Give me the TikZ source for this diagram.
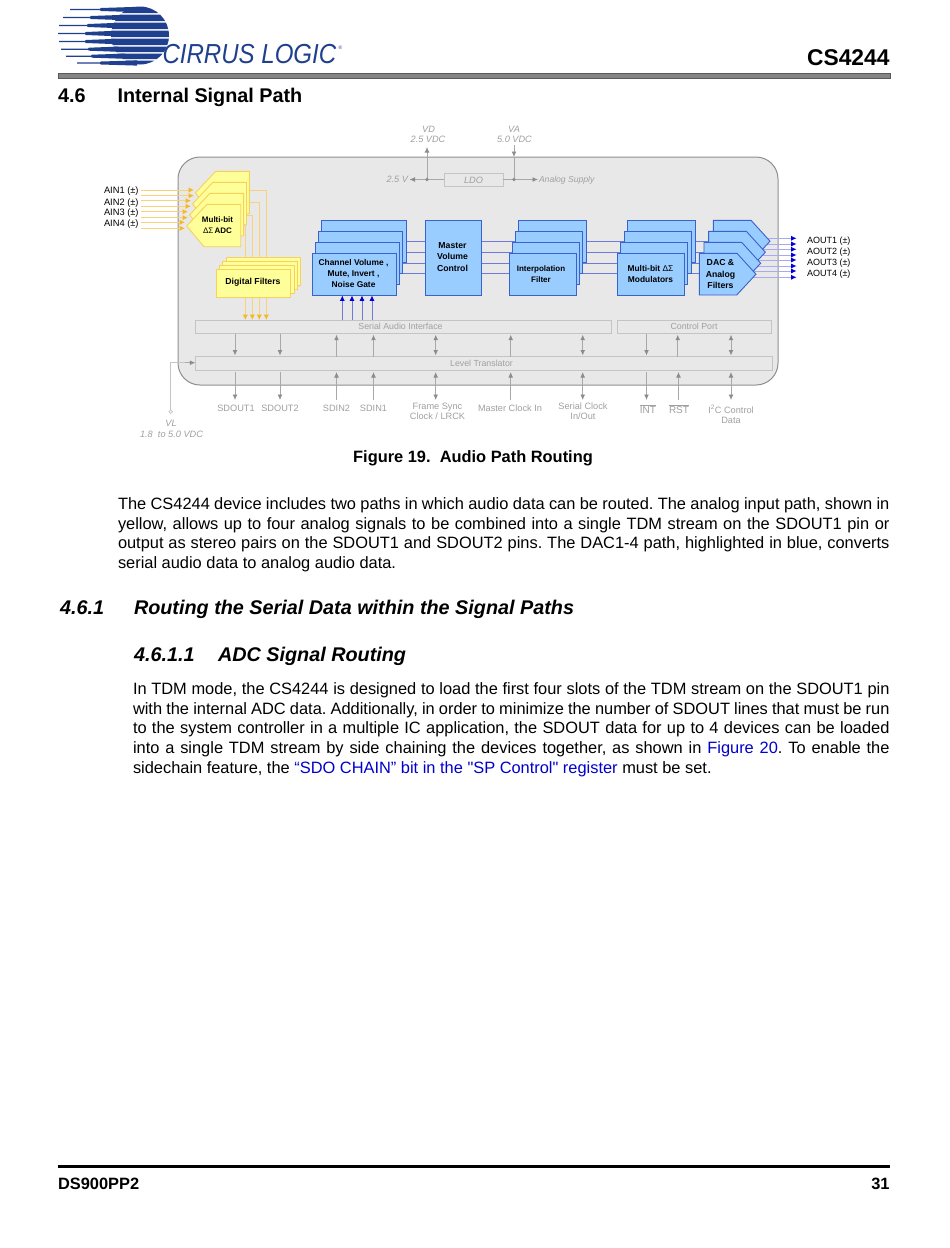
\documentclass[tikz,border=0pt]{standalone}
\usepackage{fontspec}
\setmainfont{Liberation Sans}[Ligatures=TeXOff]
\usetikzlibrary{arrows.meta,calc}
\pgfdeclarelayer{back}\pgfdeclarelayer{wires}\pgfsetlayers{back,wires,main}
\newcommand\fsz[2][]{\fontsize{#2}{#2}\selectfont}
\definecolor{logoblue}{HTML}{1F3F8F}
\definecolor{grayline}{HTML}{A8A8A8}
\definecolor{graytip}{HTML}{8C8C8C}
\definecolor{graytext}{HTML}{A0A0A0}
\definecolor{panel}{HTML}{E8E8E8}
\definecolor{paneledge}{HTML}{8F8F8F}
\definecolor{boxedge}{HTML}{C4C4C4}
\definecolor{bfill}{HTML}{99CCFF}
\definecolor{bedge}{HTML}{3A62CC}
\definecolor{yfill}{HTML}{FFFF99}
\definecolor{yedge}{HTML}{F7D05E}
\definecolor{ywire}{HTML}{F7D27A}
\definecolor{ytip}{HTML}{F5B921}
\definecolor{bwire}{HTML}{6F78DC}
\definecolor{bpale}{HTML}{A9A8F0}
\definecolor{linkblue}{HTML}{0000CC}
\tikzset{
 flat/.style={inner sep=0pt,outer sep=0pt},
 bluebox/.style={flat,draw=bedge,fill=bfill,line width=.9pt,anchor=north west},
 yelbox/.style={flat,draw=yedge,fill=yfill,line width=.9pt,anchor=north west},
 graybox/.style={flat,draw=boxedge,fill=panel,line width=.9pt,anchor=north west},
 gl/.style={flat,text=graytext,font=\fsz{9.2},align=center},
 gi/.style={flat,text=graytext,font=\fsz{9.2}\itshape,align=center},
 bl/.style={flat,text=black,font=\fsz{8.7}\bfseries,align=center},
 pin/.style={flat,text=black,font=\fsz{9},anchor=west},
 ga/.style={draw=grayline,line width=.8pt,-{Latex[length=5.5pt,width=4.8pt,color=graytip]}},
 gb/.style={draw=grayline,line width=.8pt,{Latex[length=5.5pt,width=4.8pt,color=graytip]}-{Latex[length=5.5pt,width=4.8pt,color=graytip]}},
 gw/.style={draw=grayline,line width=.8pt},
 ya/.style={draw=ywire,line width=1pt,-{Latex[length=5.5pt,width=5.5pt,color=ytip]}},
 yw/.style={draw=ywire,line width=1pt},
 ba/.style={draw=bwire,line width=1pt,-{Latex[length=5.5pt,width=5pt,color=blue!85!black]}},
 bo/.style={draw=bpale,line width=1pt,-{Latex[length=5.5pt,width=5pt,color=blue!85!black]}},
 bw/.style={draw=bwire,line width=1pt},
 body/.style={flat,anchor=base west},
 headb/.style={flat,anchor=base west},
 hd/.style={headb,font=\fsz{19.8}\bfseries},
 hi/.style={headb,font=\fsz{19.8}\bfseries\itshape},
}
\begin{document}
\begin{tikzpicture}[x=1pt,y=-1pt]
\begin{pgfonlayer}{back}
\fill[white] (0,0) rectangle (950,1248);
% ---------- panel
\node[flat,draw=paneledge,fill=panel,line width=1pt,rounded corners=22pt,minimum width=600pt,minimum height=228pt,anchor=north west] (panelbox) at (178,157) {};
\end{pgfonlayer}
\path[use as bounding box] (0,0) rectangle (950,1248);
% ---------- logo
\begin{scope}
\clip (60,6) rectangle (172,13) (60,14.5) rectangle (172,21) (60,22.5) rectangle (172,29) (60,30.5) rectangle (172,37) (60,38.5) rectangle (172,45) (60,46.5) rectangle (172,52) (60,53.5) rectangle (172,59) (60,60.5) rectangle (172,66);
\fill[logoblue] (140,35.5) circle (29);
\end{scope}
\foreach \yc/\xl/\xm/\xe in {9.5/70/100/135, 17.5/63/90/122, 25.5/59/87/116, 33.5/58/85/113, 41.5/59/85/114, 49.2/61/88/118, 56.2/66/91/125, 63/77/100/137}{
 \fill[logoblue] (\xl,\yc-.6) -- (\xm,\yc-.6) -- (\xm+1,\yc-1.5) -- (\xe,\yc-2.6) -- (\xe,\yc+2.6) -- (\xm+1,\yc+1.5) -- (\xm,\yc+.6) -- (\xl,\yc+.6) -- cycle;
}
\node[flat,text=logoblue,font=\fsz{27.5}\itshape,xscale=.875,anchor=west] (logotext) at (162.5,54.5) {CIRRUS LOGIC};
\node[flat,text=logoblue,font=\fsz{5}] (logoreg) at (340.5,47.5) {®};
% ---------- page header
\node[flat,font=\fsz{22.8}\bfseries,anchor=base east] (partno) at (889.5,65) {CS4244};
\node[flat,draw=black!65,fill=black!48,line width=.5pt,minimum width=832pt,minimum height=4.8pt,anchor=north west] (toprule) at (58,73) {};
\node[hd] (secnum) at (58,102) {4.6};
\node[hd] (sectitle) at (117.5,102) {Internal Signal Path};
% top supply
\node[graybox,minimum width=59pt,minimum height=13pt] (ldo) at (444,173) {};
\node[gi] at (473.5,180) (ldotxt) {LDO};
\coordinate (vdtip) at (427,147);
\coordinate (vatop) at (514,145);
\coordinate (vdnode) at (427,179.5);
\coordinate (vanode) at (514,179.5);
\coordinate (lefttip) at (409.5,179.5);
\coordinate (righttip) at (538,179.5);
\draw[ga] (vdnode) -- (vdtip);
\draw[ga] (vatop) -- (vanode|-0,157);
\draw[gw] (vanode|-0,157) -- (vanode);
\draw[gw] (ldo.west) -- (vdnode);
\draw[ga] (vdnode) -- (lefttip);
\draw[ga] (ldo.east) -- (righttip);
\fill[graytip] (vdnode) circle (1.8) (vanode) circle (1.8);
\node[gi] (vd) at (428.5,129) {VD};
\node[gi] (vd2) at (428,139) {2.5 VDC};
\node[gi] (va) at (514,129) {VA};
\node[gi] (va2) at (514.5,139) {5.0 VDC};
\node[gi,anchor=east] (v25) at (408,179) {2.5 V};
\node[gi,font=\fsz{8.6}\itshape,anchor=west] (asup) at (539,180) {Analog Supply};
% serial / control / level boxes
\node[graybox,minimum width=416pt,minimum height=13.7pt] (sai) at (195.3,320) {};
\node[gl,font=\fsz{8.8}] at (400.5,326.8) (saitxt) {Serial Audio Interface};
\node[graybox,minimum width=154.7pt,minimum height=13.7pt] (cp) at (617,320) {};
\node[gl,font=\fsz{8.8}] at (694,326.8) (cptxt) {Control Port};
\node[graybox,minimum width=576.7pt,minimum height=14pt] (lt) at (195.3,356.5) {};
\node[gl,font=\fsz{8.8}] at (481.5,363.5) (lttxt) {Level Translator};
% bottom pin labels
\node[gl] (p1) at (236,408) {SDOUT1};
\node[gl] (p2) at (280,408) {SDOUT2};
\node[gl] (p3) at (336.5,408) {SDIN2};
\node[gl] (p4) at (373.5,408) {SDIN1};
\node[gl,anchor=north] (p5) at (437.5,403) {Frame Sync\\[1pt]Clock / LRCK};
\node[gl] (p6) at (510,408) {Master Clock In};
\node[gl,anchor=north] (p7) at (583,403) {Serial Clock\\[1pt]In/Out};
\node[gl,font=\fsz{10}] (p8) at (648,409.5) {$\overline{\mbox{INT}}$};
\node[gl,font=\fsz{10}] (p9) at (679,409.5) {$\overline{\mbox{RST}}$};
\node[gl,anchor=north] (p10) at (731,405) {I\textsuperscript{2}C Control\\[1pt]Data};
% gray connectors
\foreach \x/\n in {235/a,280/b}{
 \coordinate (d\n) at (\x,400);
 \draw[ga] (sai.south-|d\n) -- ($(lt.north-|d\n)+(0,-1)$);
 \draw[ga] ($(lt.south-|d\n)+(0,1.5)$) -- (d\n);
}
\foreach \x/\n in {336.5/c,373.5/d,510.7/e}{
 \coordinate (d\n) at (\x,400);
 \draw[ga] (lt.north-|d\n) -- ($(sai.south-|d\n)+(0,1)$);
 \draw[ga] (d\n) -- ($(lt.south-|d\n)+(0,1.5)$);
}
\foreach \x/\n in {435.7/f,582.7/g}{
 \coordinate (d\n) at (\x,400);
 \draw[gb] ($(sai.south-|d\n)+(0,1)$) -- ($(lt.north-|d\n)+(0,-1)$);
 \draw[gb] ($(lt.south-|d\n)+(0,1.5)$) -- (d\n);
}
\coordinate (dh) at (646.5,400);
\draw[ga] (cp.south-|dh) -- ($(lt.north-|dh)+(0,-1)$);
\draw[ga] ($(lt.south-|dh)+(0,1.5)$) -- (dh);
\coordinate (di) at (677.7,356.5);
\draw[ga] (di) -- ($(cp.south-|di)+(0,1)$);
\coordinate (dj) at (678.5,400);
\draw[ga] (dj) -- ($(lt.south-|dj)+(0,1.5)$);
\coordinate (dk) at (731,400);
\draw[gb] ($(cp.south-|dk)+(0,1)$) -- ($(lt.north-|dk)+(0,-1)$);
\draw[gb] ($(lt.south-|dk)+(0,1.5)$) -- (dk);
% VL
\node[flat,draw=boxedge,fill=white,line width=.7pt,circle,minimum size=3.6pt] (vlpin) at (170.7,411.7) {};
\draw[draw=boxedge,line width=.8pt] (vlpin.north) -- (170.7,362.7) -- (185,362.7);
\draw[ga] (185,362.7) -- (lt.west|-0,362.7);
\node[gi] (vl) at (171,423) {VL};
\node[gi] (vl2) at (171.5,434) {1.8~ to 5.0 VDC};
% ---------- ADC stack
\foreach \i in {3,2,1,0}{
 \filldraw[draw=yedge,fill=yfill,line width=.9pt,shift={({2.9*\i},{-11*\i})}] (186.7,226) -- (207,204.3) -- (240.7,204.3) -- (240.7,246.7) -- (204,246.7) -- cycle;
}
\node[bl,font=\fsz{8}\bfseries] (adc) at (217.5,225) {Multi-bit\\[2.4pt]\mdseries ΔΣ\,\bfseries ADC};
% ADC input pins
\foreach \n/\y/\ya/\yb/\tip in {1/191.3/190/195.7/194,2/202.7/200.7/206.3/191,3/213/211.7/217.7/188,4/224/222.3/228.3/185}{
 \node[pin,font=\fsz{9.3}] (ain\n) at (104,\y) {AIN\n\ (±)};
 \coordinate (aina\n) at (\tip,\ya);
 \coordinate (ainb\n) at (\tip,\yb);
 \draw[ya] (140.7,\ya) -- (aina\n);
 \draw[ya] (140.7,\yb) -- (ainb\n);
}
% ---------- digital filters
\foreach \i in {3,2,1,0}{
 \node[yelbox,minimum width=74.4pt,minimum height=28pt] (df\i) at ({216.3+3.3*\i},{269.3-3.9*\i}) {};
}
\node[bl] at (253,282) (dftxt) {Digital Filters};
\begin{pgfonlayer}{wires}
\foreach \xe/\xs/\y/\k in {266.3/249/190.7/a,259.3/246/202.3/b,252.3/243.5/215/c,245.3/240.7/225.3/d}{
 \coordinate (yw\k) at (\xs,\y);
 \draw[yw] (yw\k) -- (\xe,\y) -- (\xe,280);
}
\end{pgfonlayer}
\foreach \x/\k in {245.3/a,252.3/b,259.3/c,266.3/d}{
 \coordinate (yo\k) at (\x,297.8);
 \draw[ya] (yo\k) -- (sai.north-|yo\k);
}
% ---------- blue stacks
\foreach \i in {3,2,1,0}{
 \node[bluebox,minimum width=84.7pt,minimum height=42pt] (ch\i) at ({312+3.1*\i},{253.3-11*\i}) {};
 \node[bluebox,minimum width=67.7pt,minimum height=42pt] (ip\i) at ({509+3.1*\i},{253.3-11*\i}) {};
 \node[bluebox,minimum width=67.3pt,minimum height=42pt] (md\i) at ({617+3.55*\i},{253.3-11*\i}) {};
}
\node[bluebox,minimum width=56.4pt,minimum height=74.6pt] (mst) at (425.3,220.7) {};
\foreach \i in {3,2,1,0}{
 \filldraw[draw=bedge,fill=bfill,line width=.9pt,shift={({4.67*\i},{-11*\i})}] (699.3,253.3) -- (737,253.3) -- (756,274.2) -- (736.7,295) -- (699.3,295) -- cycle;
}
\node[bl,font=\fsz{8.4}\bfseries] at (353.5,273.7) (chtxt) {Channel Volume ,\\[2.6pt]Mute, Invert ,\\[2.6pt]Noise Gate};
\node[bl] at (452.5,257) (msttxt) {Master\\[2.6pt]Volume\\[2.6pt]Control};
\node[bl,font=\fsz{8}\bfseries] at (541,273.8) (iptxt) {Interpolation\\[3pt]Filter};
\node[bl,font=\fsz{8.4}\bfseries] at (650.5,273.8) (mdtxt) {Multi-bit \mdseries ΔΣ\\[2.6pt]\bfseries Modulators};
\node[bl] at (720.5,274) (dactxt) {DAC \&\\[2.6pt]Analog\\[2.6pt]Filters};
% blue wires
\begin{pgfonlayer}{wires}
\foreach \y/\k in {241.7/a,252.3/b,263.3/c,273.3/d}{
 \coordinate (ly\k) at (0,\y);
 \draw[bw] (ch0.center|-ly\k) -- (mst.center|-ly\k);
 \draw[bw] (mst.center|-ly\k) -- (ip0.center|-ly\k);
 \draw[bw] (ip0.center|-ly\k) -- (md0.center|-ly\k);
 \draw[bw] (md0.center|-ly\k) -- (725,\y);
}
\end{pgfonlayer}
\foreach \x in {342.3,352,362,372}{
 \coordinate (bt) at (\x,320);
 \draw[ba] (bt) -- (ch0.south-|bt);
}
% output pins
\begin{pgfonlayer}{wires}
\foreach \n/\y/\ya/\yb in {1/241/238.3/244,2/252/249.3/255,3/263.5/260/266,4/274/271/277.3}{
 \node[pin] (aout\n) at (807,\y) {AOUT\n\ (±)};
 \coordinate (aoa\n) at (796.7,\ya);
 \coordinate (aob\n) at (796.7,\yb);
 \draw[bo] (745,\ya) -- (aoa\n);
 \draw[bo] (745,\yb) -- (aob\n);
}
\end{pgfonlayer}
% ---------- text
\node[flat,font=\fsz{16.4}\bfseries,anchor=base] (caption) at (473,462.5) {Figure 19.\ \ Audio Path Routing};
\node[body] (para1) at (118,509.5) {\parbox[t]{771.5pt}{\fontsize{16.4}{19.72}\selectfont\frenchspacing
The CS4244 device includes two paths in which audio data can be routed. The analog input path, shown in\linebreak
yellow, allows up to four analog signals to be combined into a single TDM stream on the SDOUT1 pin or\linebreak
output as stereo pairs on the SDOUT1 and SDOUT2 pins. The DAC1-4 path, highlighted in blue, converts\linebreak
serial audio data to analog audio data.}};
\node[hi] (h461n) at (60,614) {4.6.1};
\node[hi] (h461) at (134,614) {Routing the Serial Data within the Signal Paths};
\node[hi] (h4611n) at (134,661) {4.6.1.1};
\node[hi] (h4611) at (218,661) {ADC Signal Routing};
\node[body] (para2) at (133,694.5) {\parbox[t]{756.5pt}{\fontsize{16.4}{19.72}\selectfont\frenchspacing
In TDM mode, the CS4244 is designed to load the first four slots of the TDM stream on the SDOUT1 pin\linebreak
with the internal ADC data. Additionally, in order to minimize the number of SDOUT lines that must be run\linebreak
to the system controller in a multiple IC application, the SDOUT data for up to 4 devices can be loaded\linebreak
into a single TDM stream by side chaining the devices together, as shown in \textcolor{linkblue}{Figure 20}. To enable the\linebreak
sidechain feature, the \textcolor{linkblue}{“SDO CHAIN” bit in the "SP Control" register} must be set.}};
% ---------- footer
\node[flat,fill=black,minimum width=832pt,minimum height=2.8pt,anchor=north west] (botrule) at (58,1165) {};
\node[headb,font=\fsz{16.4}\bfseries] (docno) at (58,1189) {DS900PP2};
\node[flat,font=\fsz{16.4}\bfseries,anchor=base east] (pageno) at (889.5,1189) {31};
\end{tikzpicture}
\end{document}
